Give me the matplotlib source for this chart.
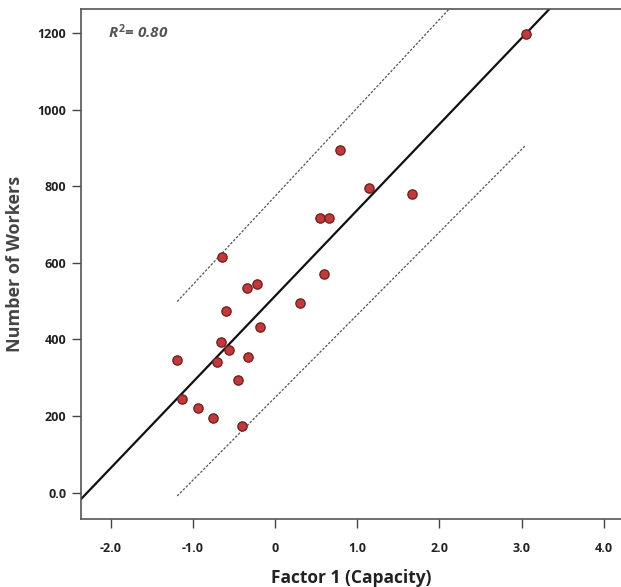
import matplotlib
matplotlib.use("Agg")
import matplotlib.pyplot as plt
import numpy as np

# Data points (Factor 1 capacity, number of workers)
factor1 = [-1.19, -1.135, -0.937, -0.75, -0.70, -0.66, -0.59, -0.56, -0.45, -0.405,
           -0.33, -0.345, -0.22, -0.186, 0.30, -0.65, 3.05, 0.79, 1.14, 1.67,
           0.55, 0.66, 0.60]
workers = [345, 244, 222, 194, 342, 394, 474, 373, 294, 175,
           353, 534, 545, 433, 496, 614, 1197, 895, 796, 780,
           716, 716, 571]

# Fit line (intercept, slope) and prediction bands (x range, y at ends)
fit_intercept = 513
fit_slope = 224.6
fit_x = [-2.5, 3.6]
band_x = [-1.19, 3.05]
band_upper = [499, 1478]
band_lower = [-9, 907]
r2_text = "0.80"

xticks = [-2.0, -1.0, 0, 1.0, 2.0, 3.0, 4.0]
xtick_labels = ["-2.0", "-1.0", "0", "1.0", "2.0", "3.0", "4.0"]
yticks = [0, 200, 400, 600, 800, 1000, 1200]
ytick_labels = ["0.0", "200", "400", "600", "800", "1000", "1200"]

plt.rcParams['font.family'] = ['Open Sans', 'DejaVu Sans']
plt.rcParams['mathtext.fontset'] = 'custom'
plt.rcParams['mathtext.it'] = 'Open Sans:bold:italic'
plt.rcParams['mathtext.rm'] = 'Open Sans:bold'
plt.rcParams['mathtext.bf'] = 'Open Sans:bold'

fig = plt.figure(figsize=(6.21, 5.87), dpi=100)
ax = fig.add_axes([81/621, 1 - 519/587, 1 - 81/621, (519 - 9)/587])

fx = np.array(fit_x)
ax.plot(fx, fit_intercept + fit_slope * fx, color='#111111', lw=1.6, zorder=2)
ax.plot(band_x, band_upper, color='#555555', lw=0.9, ls=(0, (2, 1.3)), zorder=2)
ax.plot(band_x, band_lower, color='#555555', lw=0.9, ls=(0, (2, 1.3)), zorder=2)

ax.scatter(factor1, workers, s=45, facecolor='#C0393B', edgecolor='#6B1E1E',
           linewidth=0.9, zorder=3)

ax.set_xlim(-2.36, 4.21)
ax.set_ylim(-69, 1263)
ax.set_xticks(xticks)
ax.set_xticklabels(xtick_labels)
ax.set_yticks(yticks)
ax.set_yticklabels(ytick_labels)

for lab in ax.get_xticklabels() + ax.get_yticklabels():
    lab.set_fontweight('bold')
    lab.set_fontsize(9)
    lab.set_color('#222222')

ax.tick_params(axis='both', length=6.5, width=1, color='#444444')
ax.tick_params(axis='x', pad=10)
ax.tick_params(axis='y', pad=4)

for side in ['left', 'bottom', 'top']:
    ax.spines[side].set_color('#555555')
    ax.spines[side].set_linewidth(1.2)
ax.spines['right'].set_visible(False)

ax.set_xlabel('Factor 1 (Capacity)', fontsize=12.5, fontweight='bold', color='#222222', labelpad=10)
ax.set_ylabel('Number of Workers', fontsize=13, fontweight='bold', color='#444444', labelpad=10)

ax.text(0.05, 0.955, r"$R^{\mathrm{2}}$" + "= " + r2_text, transform=ax.transAxes,
        fontsize=11, fontweight='bold', fontstyle='italic', color='#555555', va='center')

fig.savefig('out.png', dpi=100)
